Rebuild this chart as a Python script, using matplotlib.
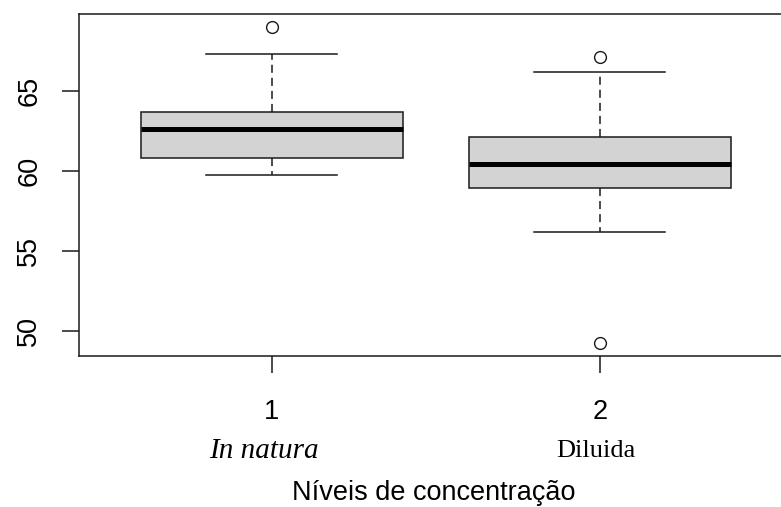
import matplotlib
matplotlib.use("Agg")
import matplotlib.pyplot as plt

plt.rcParams['lines.scale_dashes'] = False

positions = [1, 2]
tick_labels = ["1", "2"]
group_names = ["In natura", "Diluida"]
medians = [62.64, 60.44]
q1s = [60.79, 58.96]
q3s = [63.71, 62.14]
whislo = [59.75, 56.21]
whishi = [67.31, 66.19]
fliers = [[69.02], [67.10, 49.23]]
yticks = [50, 55, 60, 65]
xlabel = "Níveis de concentração"

W, H = 781, 507
fig = plt.figure(figsize=(W / 100, H / 100), dpi=100)
ax_left, ax_bottom = 79 / W, (H - 355.7) / H
ax_h = (355.7 - 14) / H
ax_w = 713.7 / W
ax = fig.add_axes([ax_left, ax_bottom, ax_w, ax_h])

stats = []
for i in range(len(positions)):
    stats.append(dict(med=medians[i], q1=q1s[i], q3=q3s[i],
                      whislo=whislo[i], whishi=whishi[i], fliers=fliers[i]))

lw = 1.1
ec = "#1a1a1a"
ax.bxp(stats, positions=positions, widths=0.8, patch_artist=True,
       boxprops=dict(facecolor="#d3d3d3", edgecolor=ec, linewidth=lw),
       medianprops=dict(color="black", linewidth=3.6, solid_capstyle="butt"),
       whiskerprops=dict(color=ec, linewidth=lw, linestyle=(0, (5.8, 3.6))),
       capprops=dict(color=ec, linewidth=lw),
       capwidths=0.4,
       flierprops=dict(marker="o", markerfacecolor="white", markeredgecolor=ec,
                       markersize=8.5, markeredgewidth=1.0))

fs = 19.5
ax.set_xlim(0.412, 2.588)
ax.set_ylim(48.46, 69.81)
ax.set_yticks(yticks)
ax.set_yticklabels([str(v) for v in yticks], rotation=90, va="center",
                   fontsize=fs, family="Liberation Sans")
ax.set_xticks(positions)
ax.set_xticklabels(tick_labels, fontsize=fs, family="Liberation Sans")
ax.tick_params(axis="both", length=12, width=lw, color=ec)
ax.tick_params(axis="y", pad=14.5)
ax.tick_params(axis="x", pad=19.5)
for s in ax.spines.values():
    s.set_linewidth(lw)
    s.set_color(ec)

# group names under tick labels
ax.text(1 - 0.025, -0.278, group_names[0], transform=ax.get_xaxis_transform(),
        ha="center", va="center", fontsize=21, family="Liberation Serif", style="italic")
ax.text(2 - 0.012, -0.278, group_names[1], transform=ax.get_xaxis_transform(),
        ha="center", va="center", fontsize=19, family="Liberation Serif")

fig.text(434 / W, 1 - 493 / H, xlabel, ha="center", va="center",
         fontsize=fs, family="Liberation Sans")

fig.savefig("out.png", dpi=100)
